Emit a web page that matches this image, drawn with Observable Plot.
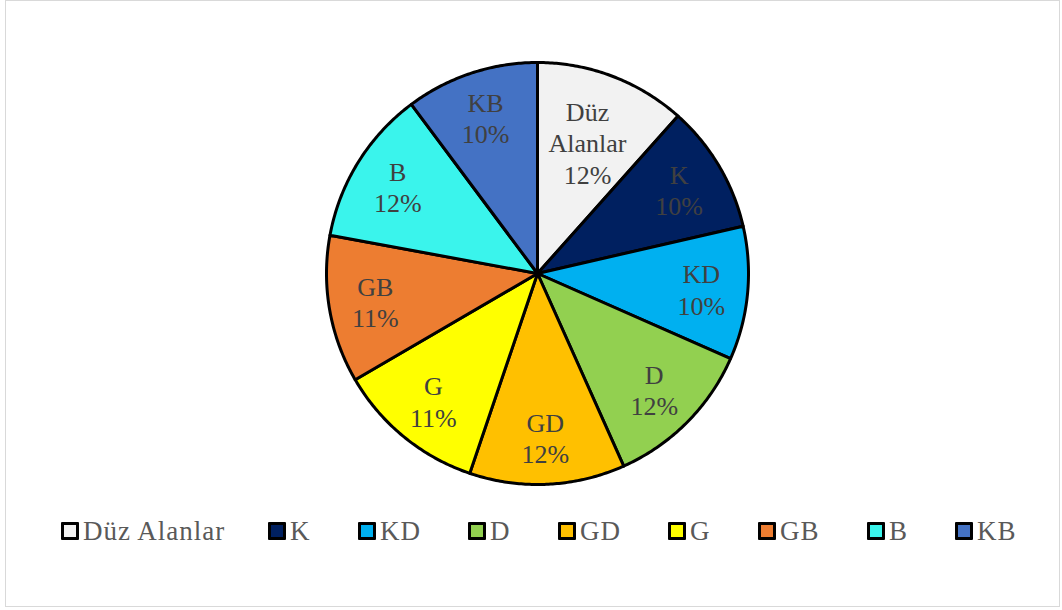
<!DOCTYPE html>
<html>
<head>
<meta charset="utf-8">
<script src="https://cdn.jsdelivr.net/npm/d3@7"></script>
<script src="https://cdn.jsdelivr.net/npm/@observablehq/plot@0.6"></script>
<style>
  html, body { margin: 0; padding: 0; background: #fff; }
  #wrap { position: relative; width: 1062px; height: 610px; overflow: hidden; }
  #border { position: absolute; left: 5px; top: 0px; width: 1055px; height: 607px; border: 1.5px solid #d9d9d9; box-sizing: border-box; }
  #chart { position: absolute; left: 0; top: 0; }
  #legend { position: absolute; left: 0; top: 512px; width: 1062px; height: 40px; font-family: "Liberation Serif", "Times New Roman", serif; font-size: 27px; letter-spacing: 1px; color: #595959; }
  .item { position: absolute; top: 0; display: flex; align-items: center; height: 38px; white-space: nowrap; }
  .sw { width: 12px; height: 12px; border: 3px solid #000; margin-right: 4px; border-radius: 1px; }
</style>
</head>
<body>
<div id="wrap">
  <div id="border"></div>
  <div id="chart"></div>
  <div id="legend"></div>
</div>
<script>
const categories = ["Düz Alanlar", "K", "KD", "D", "GD", "G", "GB", "B", "KB"];
const values = [11.6, 9.8, 10.2, 11.7, 11.9, 11.4, 11.3, 11.9, 10.2];
const colors = ["#f2f2f2", "#002060", "#00b0f0", "#92d050", "#ffc000", "#ffff00", "#ed7d31", "#3af4ec", "#4472c4"];
const legendLeft = [61, 268, 358, 468, 558, 668, 758, 867, 955];

const total = d3.sum(values);
const arcs = d3.pie().sort(null).value(d => d)(values);

// polar helper in unit-circle coordinates (clockwise from top, y up)
const pt = (a, r = 1) => [r * Math.sin(a), r * Math.cos(a)];

const slices = arcs.map((a, i) => {
  const n = Math.max(2, Math.ceil((a.endAngle - a.startAngle) / 0.01));
  const ring = [[0, 0]];
  for (let k = 0; k <= n; k++) ring.push(pt(a.startAngle + (a.endAngle - a.startAngle) * k / n));
  ring.push([0, 0]);
  return {type: "Feature", properties: {name: categories[i], color: colors[i]}, geometry: {type: "Polygon", coordinates: [ring]}};
});

const circleRing = d3.range(0, 361, 2).map(d => pt(d * Math.PI / 180));
const domain = {type: "Polygon", coordinates: [circleRing]};

const labels = arcs.map((a, i) => {
  const mid = (a.startAngle + a.endAngle) / 2;
  const pct = Math.round(a.value / total * 100) + "%";
  const text = (categories[i] === "Düz Alanlar" ? "Düz\nAlanlar" : categories[i]) + "\n" + pct;
  const lines = text.split("\n").length;
  const [x, y] = pt(mid, lines > 2 ? 0.665 : 0.78);
  return {x, y, text};
});

const chart = Plot.plot({
  width: 1062,
  height: 500,
  marginLeft: 324,
  marginRight: 312,
  marginTop: 60,
  marginBottom: 14,
  projection: {type: "reflect-y", domain, inset: 2},
  marks: [
    Plot.geo(slices, {fill: d => d.properties.color, stroke: "#000", strokeWidth: 3, strokeLinejoin: "round"}),
    Plot.text(labels, {x: "x", y: "y", text: "text", fontSize: 26, fontFamily: "Liberation Serif", fill: "#404040", lineHeight: 1.2})
  ]
});
document.getElementById("chart").appendChild(chart);

const legend = document.getElementById("legend");
categories.forEach((c, i) => {
  const item = document.createElement("div");
  item.className = "item";
  item.style.left = legendLeft[i] + "px";
  const sw = document.createElement("div");
  sw.className = "sw";
  sw.style.background = colors[i];
  const t = document.createElement("span");
  t.textContent = c;
  item.appendChild(sw);
  item.appendChild(t);
  legend.appendChild(item);
});
</script>
</body>
</html>
